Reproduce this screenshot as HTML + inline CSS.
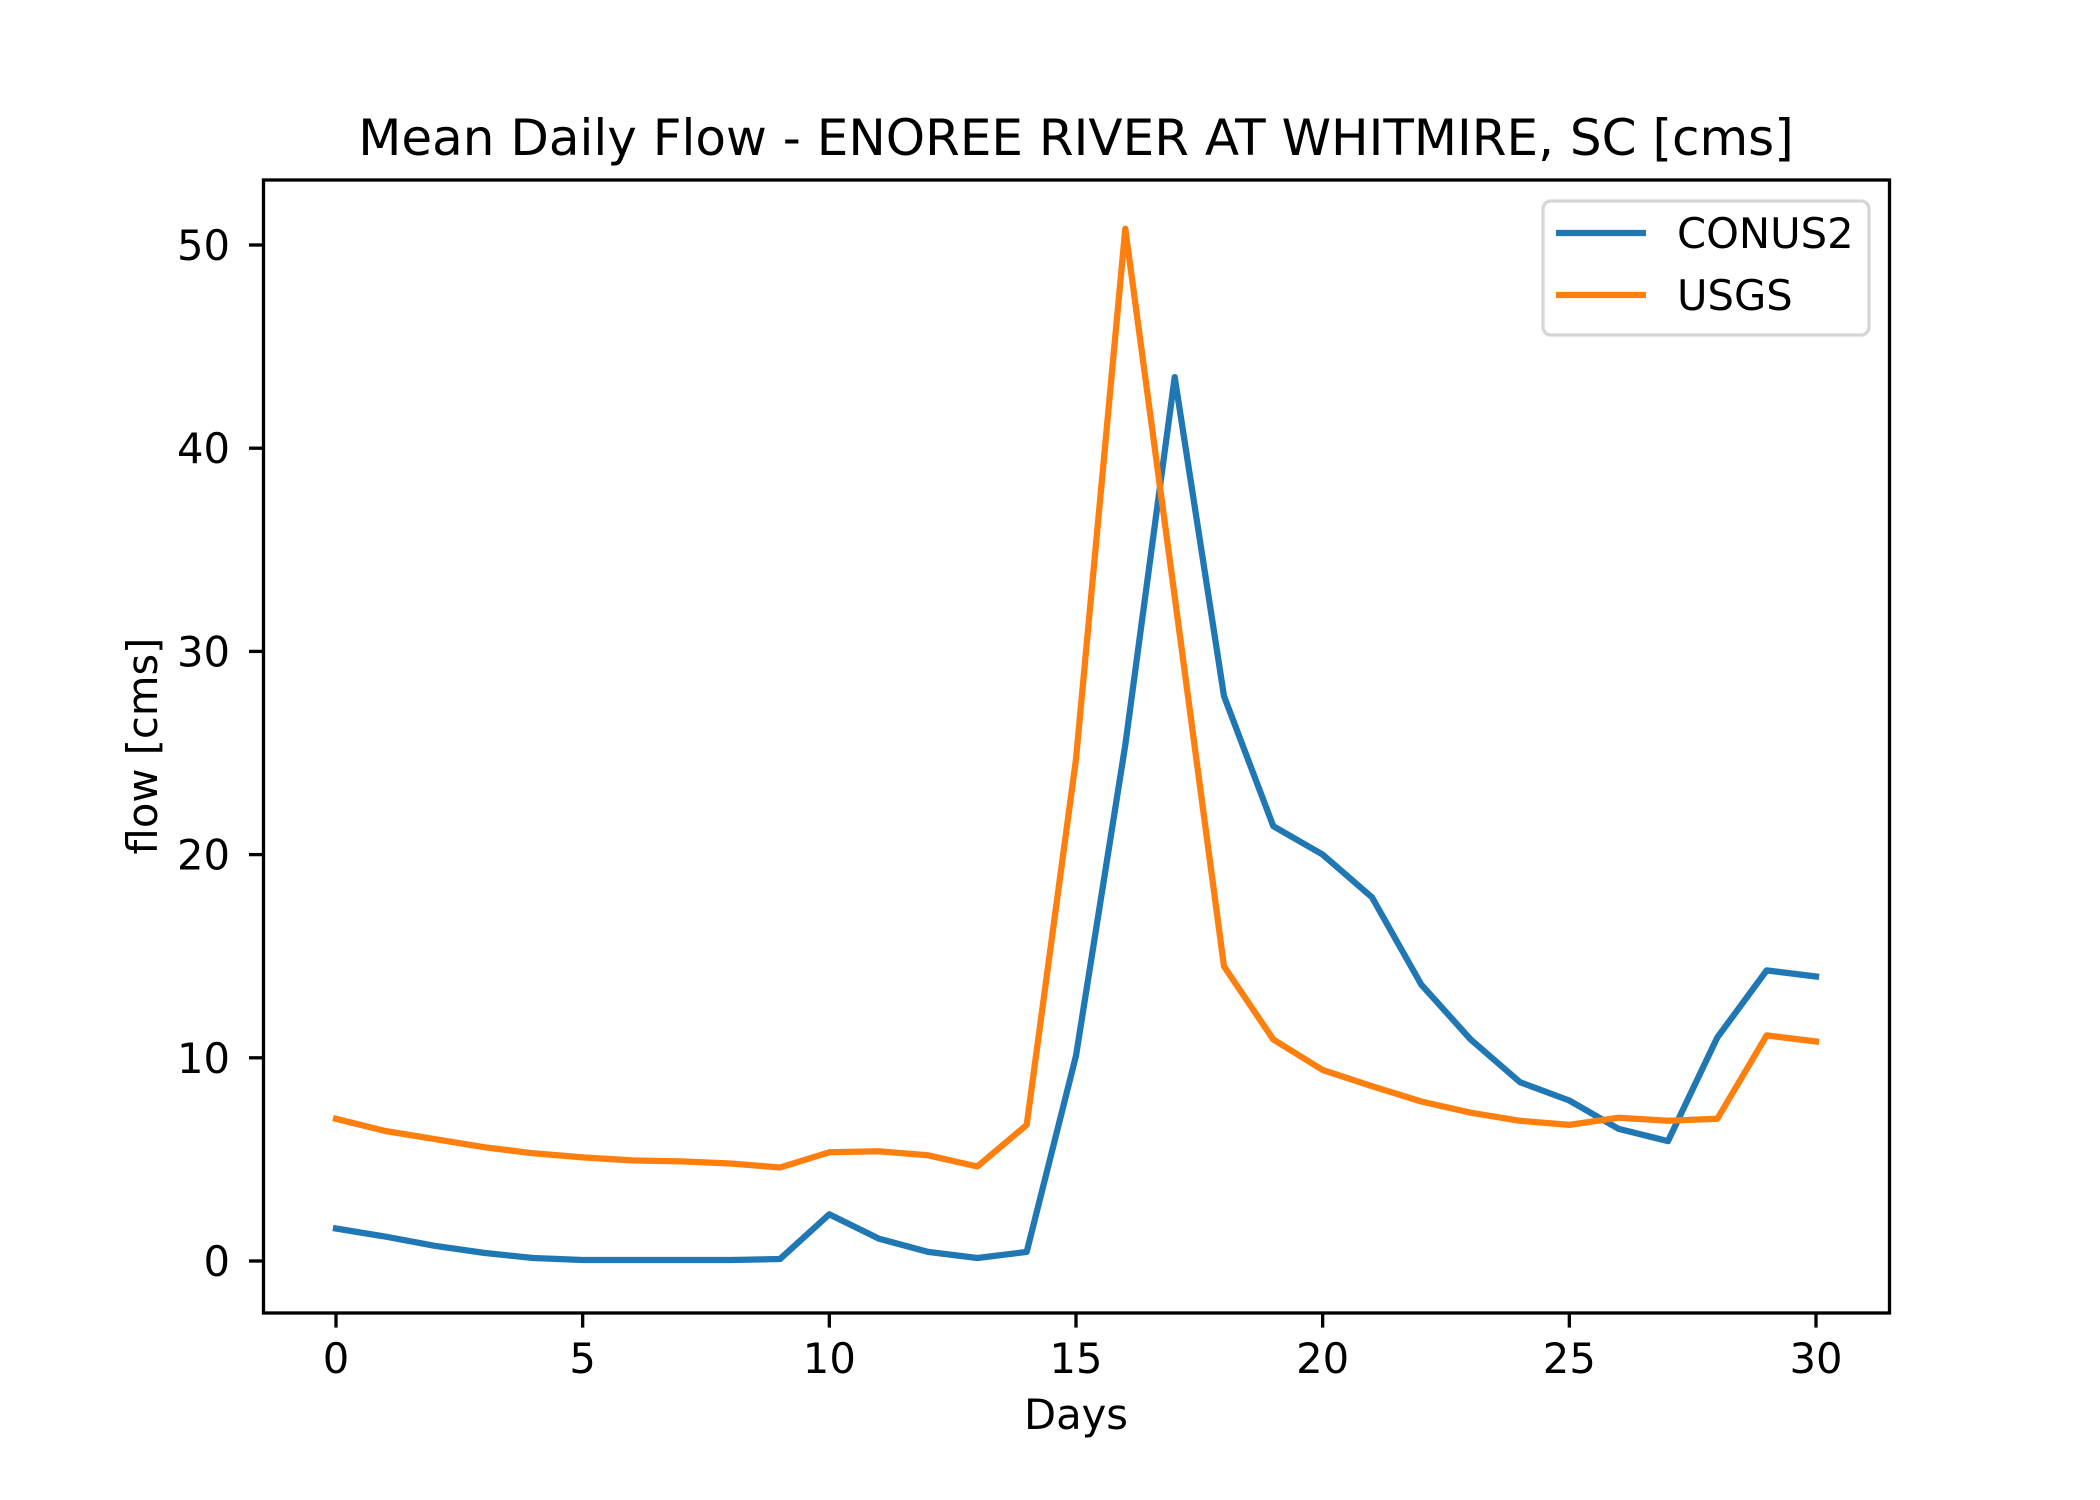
<!DOCTYPE html>
<html><head><meta charset="utf-8"><style>
html,body{margin:0;padding:0;background:#fff;}
svg{display:block;font-family:"DejaVu Sans","Liberation Sans",sans-serif;}
</style></head><body>
<svg id="chart" width="2100" height="1500" viewBox="0 0 2100 1500" xmlns="http://www.w3.org/2000/svg">
<rect width="2100" height="1500" fill="#fff"/>
<text x="1076" y="155" font-size="50" text-anchor="middle">Mean Daily Flow - ENOREE RIVER AT WHITMIRE, SC [cms]</text>
<g id="ticks"></g>
<g id="series"></g>
<rect x="263.5" y="180" width="1626" height="1133" fill="none" stroke="#000" stroke-width="3.3"/>
<text x="1076" y="1429" font-size="41.7" text-anchor="middle">Days</text>
<text transform="translate(157,746) rotate(-90)" font-size="41.7" text-anchor="middle">flow [cms]</text>
<g>
<rect x="1543" y="201" width="326" height="134" rx="8" fill="#fff" fill-opacity="0.8" stroke="#d6d6d6" stroke-width="3.3"/>
<line x1="1556" y1="233" x2="1646" y2="233" stroke="#1f77b4" stroke-width="6.25"/>
<text x="1677" y="248" font-size="41.7">CONUS2</text>
<line x1="1556" y1="295" x2="1646" y2="295" stroke="#ff7f0e" stroke-width="6.25"/>
<text x="1677" y="310" font-size="41.7">USGS</text>
</g>
</svg>
<script>
const days = [0,1,2,3,4,5,6,7,8,9,10,11,12,13,14,15,16,17,18,19,20,21,22,23,24,25,26,27,28,29,30];
const conus2 = [1.6,1.2,0.75,0.4,0.15,0.05,0.05,0.05,0.05,0.1,2.3,1.1,0.45,0.15,0.45,10.1,25.4,43.5,27.8,21.4,20.0,17.9,13.6,10.9,8.8,7.9,6.5,5.9,11.0,14.3,14.0];
const usgs = [7.0,6.4,6.0,5.6,5.3,5.1,4.95,4.9,4.8,4.6,5.35,5.4,5.2,4.65,6.7,24.7,50.8,32.7,14.5,10.9,9.4,8.6,7.85,7.3,6.9,6.7,7.05,6.9,7.0,11.1,10.8];
const xTicks = [0,5,10,15,20,25,30];
const yTicks = [0,10,20,30,40,50];

const NS = "http://www.w3.org/2000/svg";
const xPx = d => 336 + d * 49.333;
const yPx = v => 1261 - v * 20.32;
const tg = document.getElementById('ticks');
const sg = document.getElementById('series');
function mk(tag, attrs, parent){ const e=document.createElementNS(NS,tag); for(const k in attrs) e.setAttribute(k,attrs[k]); parent.appendChild(e); return e; }
xTicks.forEach(t=>{
  const l = mk('line',{x1:xPx(t),x2:xPx(t),y1:1313,y2:1327.6,stroke:'#000','stroke-width':3.3},tg);
  
  
  const tx = mk('text',{x:xPx(t),y:1373,'font-size':41.7,'text-anchor':'middle'},tg);
  tx.textContent = t;
  
  
});
yTicks.forEach(t=>{
  const l = mk('line',{x1:249,x2:263.5,y1:yPx(t),y2:yPx(t),stroke:'#000','stroke-width':3.3},tg);
  
  
  const tx = mk('text',{x:230,y:yPx(t)+15,'font-size':41.7,'text-anchor':'end'},tg);
  tx.textContent = t;
  
  
});
function drawLine(vals,color,name){
  const pts = vals.map((v,i)=>xPx(days[i]).toFixed(1)+','+yPx(v).toFixed(1)).join(' ');
  const p = mk('polyline',{points:pts,fill:'none',stroke:color,'stroke-width':6.25,'stroke-linejoin':'round','stroke-linecap':'square'},sg);
  
  
}
drawLine(conus2,'#1f77b4','conus2-line');
drawLine(usgs,'#ff7f0e','usgs-line');
</script>
</body></html>
